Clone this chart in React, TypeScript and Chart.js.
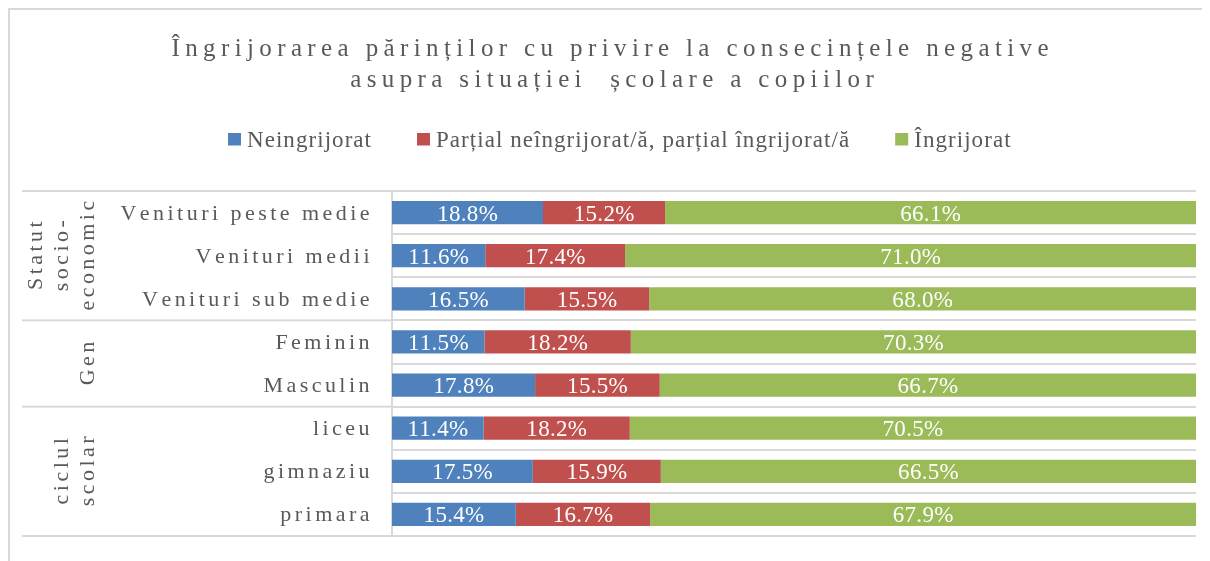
import React, { useEffect, useRef } from "react";
import { Chart, registerables } from "chart.js";

Chart.register(...registerables);

const TITLE_LINES = [
  "Îngrijorarea părinților cu privire la consecințele negative",
  "asupra situației  școlare a copiilor",
];

const CATEGORIES = [
  "Venituri peste medie",
  "Venituri medii",
  "Venituri sub medie",
  "Feminin",
  "Masculin",
  "liceu",
  "gimnaziu",
  "primara",
];

const GROUP_LABELS = [["Statut", "socio-", "economic"], ["Gen"], ["ciclul", "scolar"]];
const GROUP_SIZES = [3, 2, 3];

const SERIES_NAMES = [
  "Neingrijorat",
  "Parțial neîngrijorat/ă, parțial îngrijorat/ă",
  "Îngrijorat",
];

const NEINGRIJORAT = [18.8, 11.6, 16.5, 11.5, 17.8, 11.4, 17.5, 15.4];
const PARTIAL = [15.2, 17.4, 15.5, 18.2, 15.5, 18.2, 15.9, 16.7];
const INGRIJORAT = [66.1, 71.0, 68.0, 70.3, 66.7, 70.5, 66.5, 67.9];

const SERIES_VALUES = [NEINGRIJORAT, PARTIAL, INGRIJORAT];
const COLORS = ["#4F81BD", "#C0504D", "#9BBB59"];

const FONT = '"Liberation Serif", "Times New Roman", serif';
const TEXT_COLOR = "#595959";
const LINE_COLOR = "#D9D9D9";

function naturalWidth(ctx: CanvasRenderingContext2D, text: string) {
  return Array.from(text).reduce((a, c) => a + ctx.measureText(c).width, 0);
}

function fitSpacing(ctx: CanvasRenderingContext2D, text: string, target: number) {
  const n = Array.from(text).length;
  return (target - naturalWidth(ctx, text)) / (n - 1);
}

function spacedWidth(ctx: CanvasRenderingContext2D, text: string, ls: number) {
  const n = Array.from(text).length;
  return naturalWidth(ctx, text) + ls * (n - 1);
}

function drawSpaced(
  ctx: CanvasRenderingContext2D,
  text: string,
  x: number,
  y: number,
  ls: number,
  align: "left" | "right" | "center"
) {
  const chars = Array.from(text);
  const widths = chars.map((c) => ctx.measureText(c).width);
  const total = widths.reduce((a, b) => a + b, 0) + ls * (chars.length - 1);
  let cx = align === "left" ? x : align === "right" ? x - total : x - total / 2;
  ctx.textAlign = "left";
  chars.forEach((c, i) => {
    ctx.fillText(c, cx, y);
    cx += widths[i] + ls;
  });
}

const decorPlugin = {
  id: "decor",
  afterDatasetsDraw(chart: any) {
    const ctx: CanvasRenderingContext2D = chart.ctx;
    ctx.save();
    ctx.fillStyle = "#FFFFFF";
    ctx.font = `23px ${FONT}`;
    ctx.textBaseline = "alphabetic";
    chart.data.datasets.forEach((ds: any, di: number) => {
      const meta = chart.getDatasetMeta(di);
      meta.data.forEach((bar: any, i: number) => {
        const raw = ds.rawValues[i];
        const cx = (bar.x + bar.base) / 2;
        drawSpaced(ctx, `${raw.toFixed(1)}%`, cx, bar.y + 8, 0.3, "center");
      });
    });
    ctx.restore();
  },
  afterDraw(chart: any) {
    const ctx: CanvasRenderingContext2D = chart.ctx;
    const area = chart.chartArea;
    const y = chart.scales.y;
    ctx.save();

    // outer border (top and left)
    ctx.fillStyle = LINE_COLOR;
    ctx.fillRect(0, 0, chart.width + 10, 2);
    ctx.fillRect(0, 0, 2, chart.height);

    // title
    ctx.fillStyle = TEXT_COLOR;
    ctx.font = `25px ${FONT}`;
    ctx.textBaseline = "alphabetic";
    const tls = fitSpacing(ctx, TITLE_LINES[0], 877);
    const tcx = 602;
    drawSpaced(ctx, TITLE_LINES[0], tcx, 48, tls, "center");
    drawSpaced(ctx, TITLE_LINES[1], tcx + 2, 79, tls, "center");

    // legend
    ctx.font = `23px ${FONT}`;
    const lls = fitSpacing(ctx, SERIES_NAMES[0], 124);
    let lx = 220;
    SERIES_NAMES.forEach((name, i) => {
      ctx.fillStyle = COLORS[i];
      ctx.fillRect(lx, 125, 13, 12.5);
      ctx.fillStyle = TEXT_COLOR;
      drawSpaced(ctx, name, lx + 19, 138.7, lls, "left");
      lx += 19 + spacedWidth(ctx, name, lls) + 46;
    });

    // category labels
    ctx.font = `22px ${FONT}`;
    const cls = fitSpacing(ctx, CATEGORIES[0], 249);
    ctx.fillStyle = TEXT_COLOR;
    CATEGORIES.forEach((cat, i) => {
      drawSpaced(ctx, cat, 361.5, y.getPixelForValue(i) + 7, cls, "right");
    });

    // group separators and labels
    ctx.fillStyle = LINE_COLOR;
    let start = 0;
    const bounds: number[] = [y.getPixelForValue(-0.5)];
    GROUP_SIZES.forEach((size) => {
      bounds.push(y.getPixelForValue(start + size - 0.5));
      start += size;
    });
    bounds.forEach((b) => {
      ctx.fillRect(14, b - 1, area.left - 14, 2);
    });

    ctx.fillStyle = TEXT_COLOR;
    GROUP_LABELS.forEach((lines, gi) => {
      const cy = (bounds[gi] + bounds[gi + 1]) / 2;
      const n = lines.length;
      lines.forEach((line, li) => {
        const xb = 86 - (n - 1 - li) * 26;
        ctx.save();
        ctx.translate(xb, cy);
        ctx.rotate(-Math.PI / 2);
        drawSpaced(ctx, line, 0, 0, cls, "center");
        ctx.restore();
      });
    });

    ctx.restore();
  },
};

export default function App() {
  const canvasRef = useRef<HTMLCanvasElement | null>(null);

  useEffect(() => {
    document.documentElement.style.overflow = "hidden";
    document.body.style.overflow = "hidden";
    const canvas = canvasRef.current;
    if (!canvas) return;
    const sums = CATEGORIES.map((_, i) =>
      SERIES_VALUES.reduce((a, s) => a + s[i], 0)
    );
    const chart = new Chart(canvas, {
      type: "bar",
      data: {
        labels: CATEGORIES,
        datasets: SERIES_VALUES.map((vals, si) => ({
          label: SERIES_NAMES[si],
          data: vals.map((v, i) => (v / sums[i]) * 100),
          rawValues: vals,
          backgroundColor: COLORS[si],
          borderWidth: 0,
          barPercentage: 0.54,
          categoryPercentage: 1,
        })) as any,
      },
      options: {
        indexAxis: "y",
        responsive: false,
        animation: false,
        events: [],
        layout: { padding: { left: 384, right: 14, top: 183, bottom: 25 } },
        plugins: {
          legend: { display: false },
          title: { display: false },
          tooltip: { enabled: false },
        },
        scales: {
          x: {
            stacked: true,
            min: 0,
            max: 100,
            display: false,
          },
          y: {
            type: "category",
            stacked: true,
            grid: {
              color: LINE_COLOR,
              lineWidth: 2,
              drawTicks: false,
              offset: true,
            },
            border: { display: true, color: LINE_COLOR, width: 2 },
            ticks: { display: false },
          },
        },
      },
      plugins: [decorPlugin],
    });
    return () => chart.destroy();
  }, []);

  return (
    <canvas
      ref={canvasRef}
      width={1202}
      height={553}
      style={{ display: "block", width: 1202, height: 553 }}
    />
  );
}
